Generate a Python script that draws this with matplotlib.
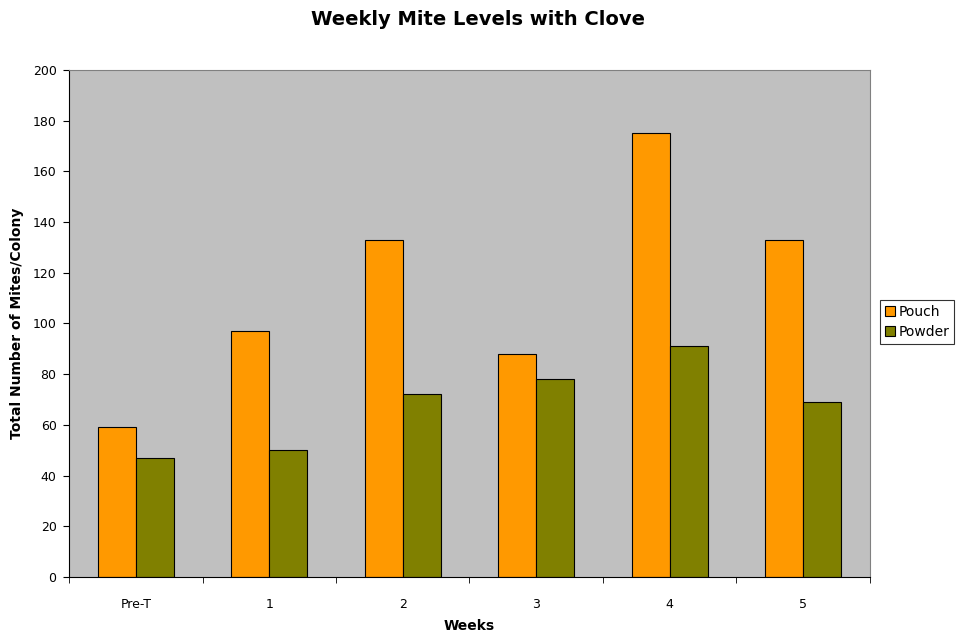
import numpy as np
import matplotlib.pyplot as plt

weeks = ['Pre-T', '1', '2', '3', '4', '5']
pouch = [59, 97, 133, 88, 175, 133]
powder = [47, 50, 72, 78, 91, 69]

fig = plt.figure(figsize=(9.56, 6.36), dpi=100)
ax = fig.add_axes([0.0722, 0.0928, 0.8378, 0.7972])
ax.set_facecolor('#C0C0C0')

x = np.arange(len(weeks))
w = 0.285
ax.bar(x - w/2, pouch, w, color='#FF9900', edgecolor='black', linewidth=0.8, label='Pouch')
ax.bar(x + w/2, powder, w, color='#808000', edgecolor='black', linewidth=0.8, label='Powder')

ax.set_xlim(-0.5, len(weeks) - 0.5)
ax.set_ylim(0, 200)
ax.set_yticks(range(0, 201, 20))
ax.set_xticks(x)
ax.set_xticklabels(weeks)
ax.set_xticks(np.arange(-0.5, len(weeks), 1), minor=True)
ax.tick_params(axis='x', which='major', length=0, pad=15, labelsize=9)
ax.tick_params(axis='x', which='minor', length=4, direction='out')
ax.tick_params(axis='y', length=4, direction='out', labelsize=9, pad=5)

for s in ['top', 'right']:
    ax.spines[s].set_color('#808080')
ax.spines['left'].set_color('black')
ax.spines['bottom'].set_color('black')

ax.set_xlabel('Weeks', fontsize=10, fontweight='bold', labelpad=6)
ax.set_ylabel('Total Number of Mites/Colony', fontsize=10, fontweight='bold', labelpad=6)
fig.suptitle('Weekly Mite Levels with Clove', fontsize=14, fontweight='bold', y=0.984)

leg = fig.legend(loc='center left', bbox_to_anchor=(0.921, 0.494), fontsize=10,
                 frameon=True, fancybox=False, edgecolor='black', handlelength=0.7,
                 handleheight=0.7, handletextpad=0.25, borderpad=0.35, labelspacing=0.45,
                 borderaxespad=0)
leg.get_frame().set_linewidth(0.8)

fig.savefig('out.png', dpi=100)
